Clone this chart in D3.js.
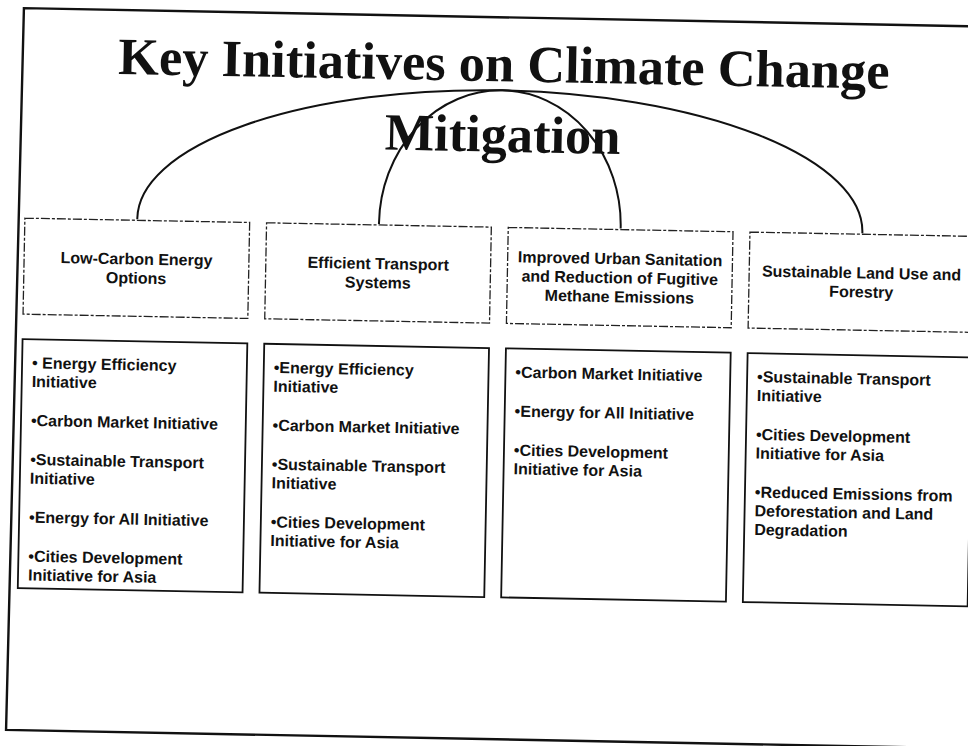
<!DOCTYPE html>
<html>
<head>
<meta charset="utf-8">
<script src="https://cdn.jsdelivr.net/npm/d3@7"></script>
<style>
  html, body { margin: 0; padding: 0; background: #fff; }
  svg { display: block; }
</style>
</head>
<body>
<div id="chart"></div>
<script>
// ---- content ----
const titleLines = ["Key Initiatives on Climate Change", "Mitigation"];

const headers = [
  ["Low-Carbon Energy", "Options"],
  ["Efficient Transport", "Systems"],
  ["Improved Urban Sanitation", "and Reduction of Fugitive", "Methane Emissions"],
  ["Sustainable Land Use and", "Forestry"]
];

const initiatives = [
  [["• Energy Efficiency", "Initiative"], ["•Carbon Market Initiative"], ["•Sustainable Transport", "Initiative"], ["•Energy for All Initiative"], ["•Cities Development", "Initiative for Asia"]],
  [["•Energy Efficiency", "Initiative"], ["•Carbon Market Initiative"], ["•Sustainable Transport", "Initiative"], ["•Cities Development", "Initiative for Asia"]],
  [["•Carbon Market Initiative"], ["•Energy for All Initiative"], ["•Cities Development", "Initiative for Asia"]],
  [["•Sustainable Transport", "Initiative"], ["•Cities Development", "Initiative for Asia"], ["•Reduced Emissions from", "Deforestation and Land", "Degradation"]]
];

// arcs linking header boxes (column indices)
const arcLinks = [[0, 3], [1, 2]];

// ---- layout ----
const W = 968, H = 746;
const tilt = 1.1;                // scan skew (degrees)
const headerTop = 227, headerH = 96;
const listTop = 348, listBottom = 597;
const arcTop = 90;
const lineH = 19, bulletLineH = 18.7, paraStep = 39;

const svg = d3.select("#chart").append("svg")
  .attr("width", W).attr("height", H)
  .style("background", "#fff");

const g = svg.append("g").attr("transform", `rotate(${tilt},484,373)`);

const x = d3.scaleBand()
  .domain(d3.range(headers.length))
  .range([22, 972])
  .paddingInner(0.07);

// outer slide frame
g.append("path")
  .attr("d", "M 990 17 L 17 17 L 13 739 L 990 739")
  .attr("fill", "none").attr("stroke", "#111").attr("stroke-width", 2.4);

// title
g.append("g").selectAll("text").data(titleLines).join("text")
  .attr("x", 498)
  .attr("y", (d, i) => 81 + i * 70.5)
  .attr("text-anchor", "middle")
  .attr("font-family", "'Liberation Serif', 'Times New Roman', serif")
  .attr("font-weight", "bold")
  .attr("font-size", 52.4)
  .attr("fill", "#111")
  .text(d => d);

// connecting arcs
g.append("g").selectAll("path").data(arcLinks).join("path")
  .attr("d", ([a, b]) => {
    const x0 = x(a) + x.bandwidth() / 2, x1 = x(b) + x.bandwidth() / 2;
    const rx = (x1 - x0) / 2, ry = headerTop - 2 - arcTop;
    return `M ${x0} ${headerTop - 1} L ${x0} ${headerTop - 2} A ${rx} ${ry} 0 0 1 ${x1} ${headerTop - 2} L ${x1} ${headerTop - 1}`;
  })
  .attr("fill", "none").attr("stroke", "#111").attr("stroke-width", 2);

// header boxes
const hg = g.append("g").selectAll("g").data(headers).join("g");
hg.append("rect")
  .attr("x", (d, i) => x(i))
  .attr("y", headerTop)
  .attr("width", x.bandwidth())
  .attr("height", headerH)
  .attr("fill", "#fff")
  .attr("stroke", "#222").attr("stroke-width", 1.3)
  .attr("stroke-dasharray", "9 2 3 2");
hg.each(function (lines, i) {
  const cy = headerTop + headerH / 2;
  const first = cy - (lines.length - 1) * lineH / 2 + 5.7;
  d3.select(this).selectAll("text").data(lines).join("text")
    .attr("x", x(i) + x.bandwidth() / 2)
    .attr("y", (d, k) => first + k * lineH)
    .attr("text-anchor", "middle")
    .attr("font-family", "'Liberation Sans', Arial, sans-serif")
    .attr("font-weight", "bold")
    .attr("font-size", 16)
    .attr("fill", "#111")
    .text(d => d);
});

// initiative boxes
const lg = g.append("g").selectAll("g").data(initiatives).join("g");
lg.append("rect")
  .attr("x", (d, i) => x(i))
  .attr("y", listTop)
  .attr("width", x.bandwidth())
  .attr("height", listBottom - listTop)
  .attr("fill", "#fff")
  .attr("stroke", "#111").attr("stroke-width", 1.8);
lg.each(function (paras, i) {
  const rows = [];
  let y = listTop + 29;
  paras.forEach((p) => {
    p.forEach((line, li) => {
      rows.push({ line, y });
      y += (li < p.length - 1) ? bulletLineH : 0;
    });
    y += paraStep;
  });
  d3.select(this).selectAll("text").data(rows).join("text")
    .attr("x", x(i) + 10)
    .attr("y", d => d.y)
    .attr("font-family", "'Liberation Sans', Arial, sans-serif")
    .attr("font-weight", "bold")
    .attr("font-size", 16)
    .attr("fill", "#111")
    .text(d => d.line);
});
</script>
</body>
</html>
